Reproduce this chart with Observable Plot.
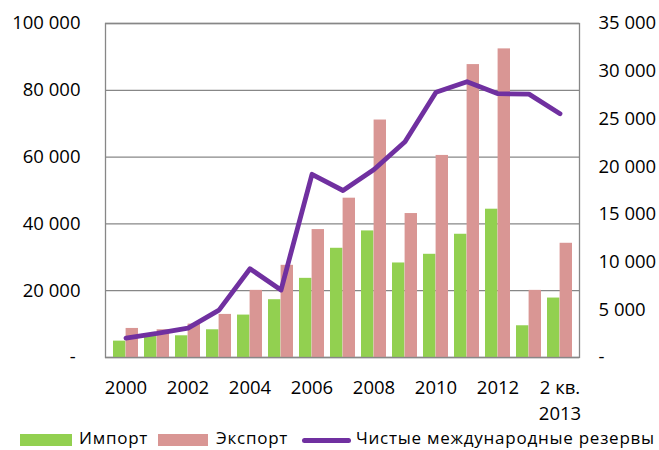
<!DOCTYPE html>
<html>
<head>
<meta charset="utf-8">
<script src="https://cdn.jsdelivr.net/npm/d3@7"></script>
<script src="https://cdn.jsdelivr.net/npm/@observablehq/plot@0.6"></script>
<style>
  html, body { margin: 0; padding: 0; background: #fff; }
  #wrap { position: relative; width: 659px; height: 450px; font-family: "Open Sans", sans-serif; color: #000; }
  #chart svg { display: block; }
  #legend { position: relative; width: 659px; height: 24px; }
  .sw { position: absolute; top: 8px; height: 12px; }
  .lt { position: absolute; top: 2.4px; font-size: 17px; line-height: 20px; letter-spacing: 0.75px; white-space: nowrap; }
  .ln { position: absolute; top: 11.5px; height: 5px; border-radius: 3px; background: #7030A0; }
</style>
</head>
<body>
<div id="wrap">
  <div id="chart"></div>
  <div id="legend"></div>
</div>
<script>
const categories = ["2000","2001","2002","2003","2004","2005","2006","2007","2008","2009","2010","2011","2012","1 кв. 2013","2 кв. 2013"];
const shownLabels = ["2000","2002","2004","2006","2008","2010","2012","2 кв. 2013"];
const importValues = [4900, 6300, 6500, 8300, 12700, 17300, 23700, 32700, 37900, 28300, 30900, 36900, 44400, 9500, 17800];
const exportValues = [8700, 8300, 10000, 12900, 20100, 27600, 38300, 47700, 71100, 43100, 60500, 87700, 92400, 20100, 34200];
const reserveValues = [2040, 2520, 3080, 4970, 9300, 7070, 19200, 17500, 19700, 22600, 27800, 28900, 27650, 27600, 25550];
const leftTicks = [0, 20000, 40000, 60000, 80000, 100000];
const rightTicks = [0, 5000, 10000, 15000, 20000, 25000, 30000, 35000];
const seriesNames = ["Импорт", "Экспорт", "Чистые международные резервы"];
const colors = ["#92D050", "#D99694", "#7030A0"];

const leftMax = 100000, rightMax = 35000, k = leftMax / rightMax;
const loc = d3.formatLocale({decimal: ",", thousands: " ", grouping: [3]});
const fmt = loc.format(",");
const numLabel = v => v === 0 ? "-\u00a0" : fmt(v);

const rows = categories.map((c, i) => ({cat: c, imp: importValues[i], exp: exportValues[i], res: reserveValues[i] * k}));
const half = 12.6;

const chart = Plot.plot({
  width: 659,
  height: 426,
  marginLeft: 105,
  marginRight: 80,
  marginTop: 23,
  marginBottom: 69,
  style: {fontFamily: "Open Sans, sans-serif", fontSize: "18.5px", color: "#000", background: "#fff", overflow: "visible"},
  x: {type: "band", domain: categories, paddingInner: 0.2, paddingOuter: 0.1},
  y: {domain: [0, leftMax]},
  marks: [
    Plot.ruleY(leftTicks, {stroke: "#878787", strokeWidth: 1.3}),
    Plot.barY(rows, {x: "cat", y: "imp", fill: colors[0], insetRight: half}),
    Plot.barY(rows, {x: "cat", y: "exp", fill: colors[1], insetLeft: half}),
    Plot.frame({stroke: "#878787", strokeWidth: 1.3}),
    Plot.line(rows, {x: "cat", y: "res", stroke: colors[2], strokeWidth: 4.8, strokeLinejoin: "round", strokeLinecap: "round"}),
    Plot.axisY({ticks: leftTicks, tickSize: 0, tickPadding: 25, tickFormat: numLabel, label: null, fontSize: 18.5}),
    Plot.axisY({anchor: "right", ticks: rightTicks.map(v => v * k), tickSize: 0, tickPadding: 19, tickFormat: d => numLabel(Math.round(d / k)), label: null, fontSize: 18.5}),
    Plot.axisX({ticks: shownLabels, tickSize: 0, tickPadding: 18, lineHeight: 1.42, tickFormat: d => d.replace(" 2013", "\n2013"), label: null, fontSize: 18.5})
  ]
});
document.getElementById("chart").appendChild(chart);

const legend = document.getElementById("legend");
const items = [
  {sw: "sw", x: 20, w: 52, tx: 79, name: seriesNames[0], color: colors[0]},
  {sw: "sw", x: 158, w: 50, tx: 216, name: seriesNames[1], color: colors[1]},
  {sw: "ln", x: 302, w: 49, tx: 356, name: seriesNames[2], color: colors[2]}
];
for (const it of items) {
  const s = document.createElement("div");
  s.className = it.sw;
  s.style.left = it.x + "px";
  s.style.width = it.w + "px";
  s.style.background = it.color;
  legend.appendChild(s);
  const t = document.createElement("div");
  t.className = "lt";
  t.style.left = it.tx + "px";
  t.textContent = it.name;
  legend.appendChild(t);
}
</script>
</body>
</html>
